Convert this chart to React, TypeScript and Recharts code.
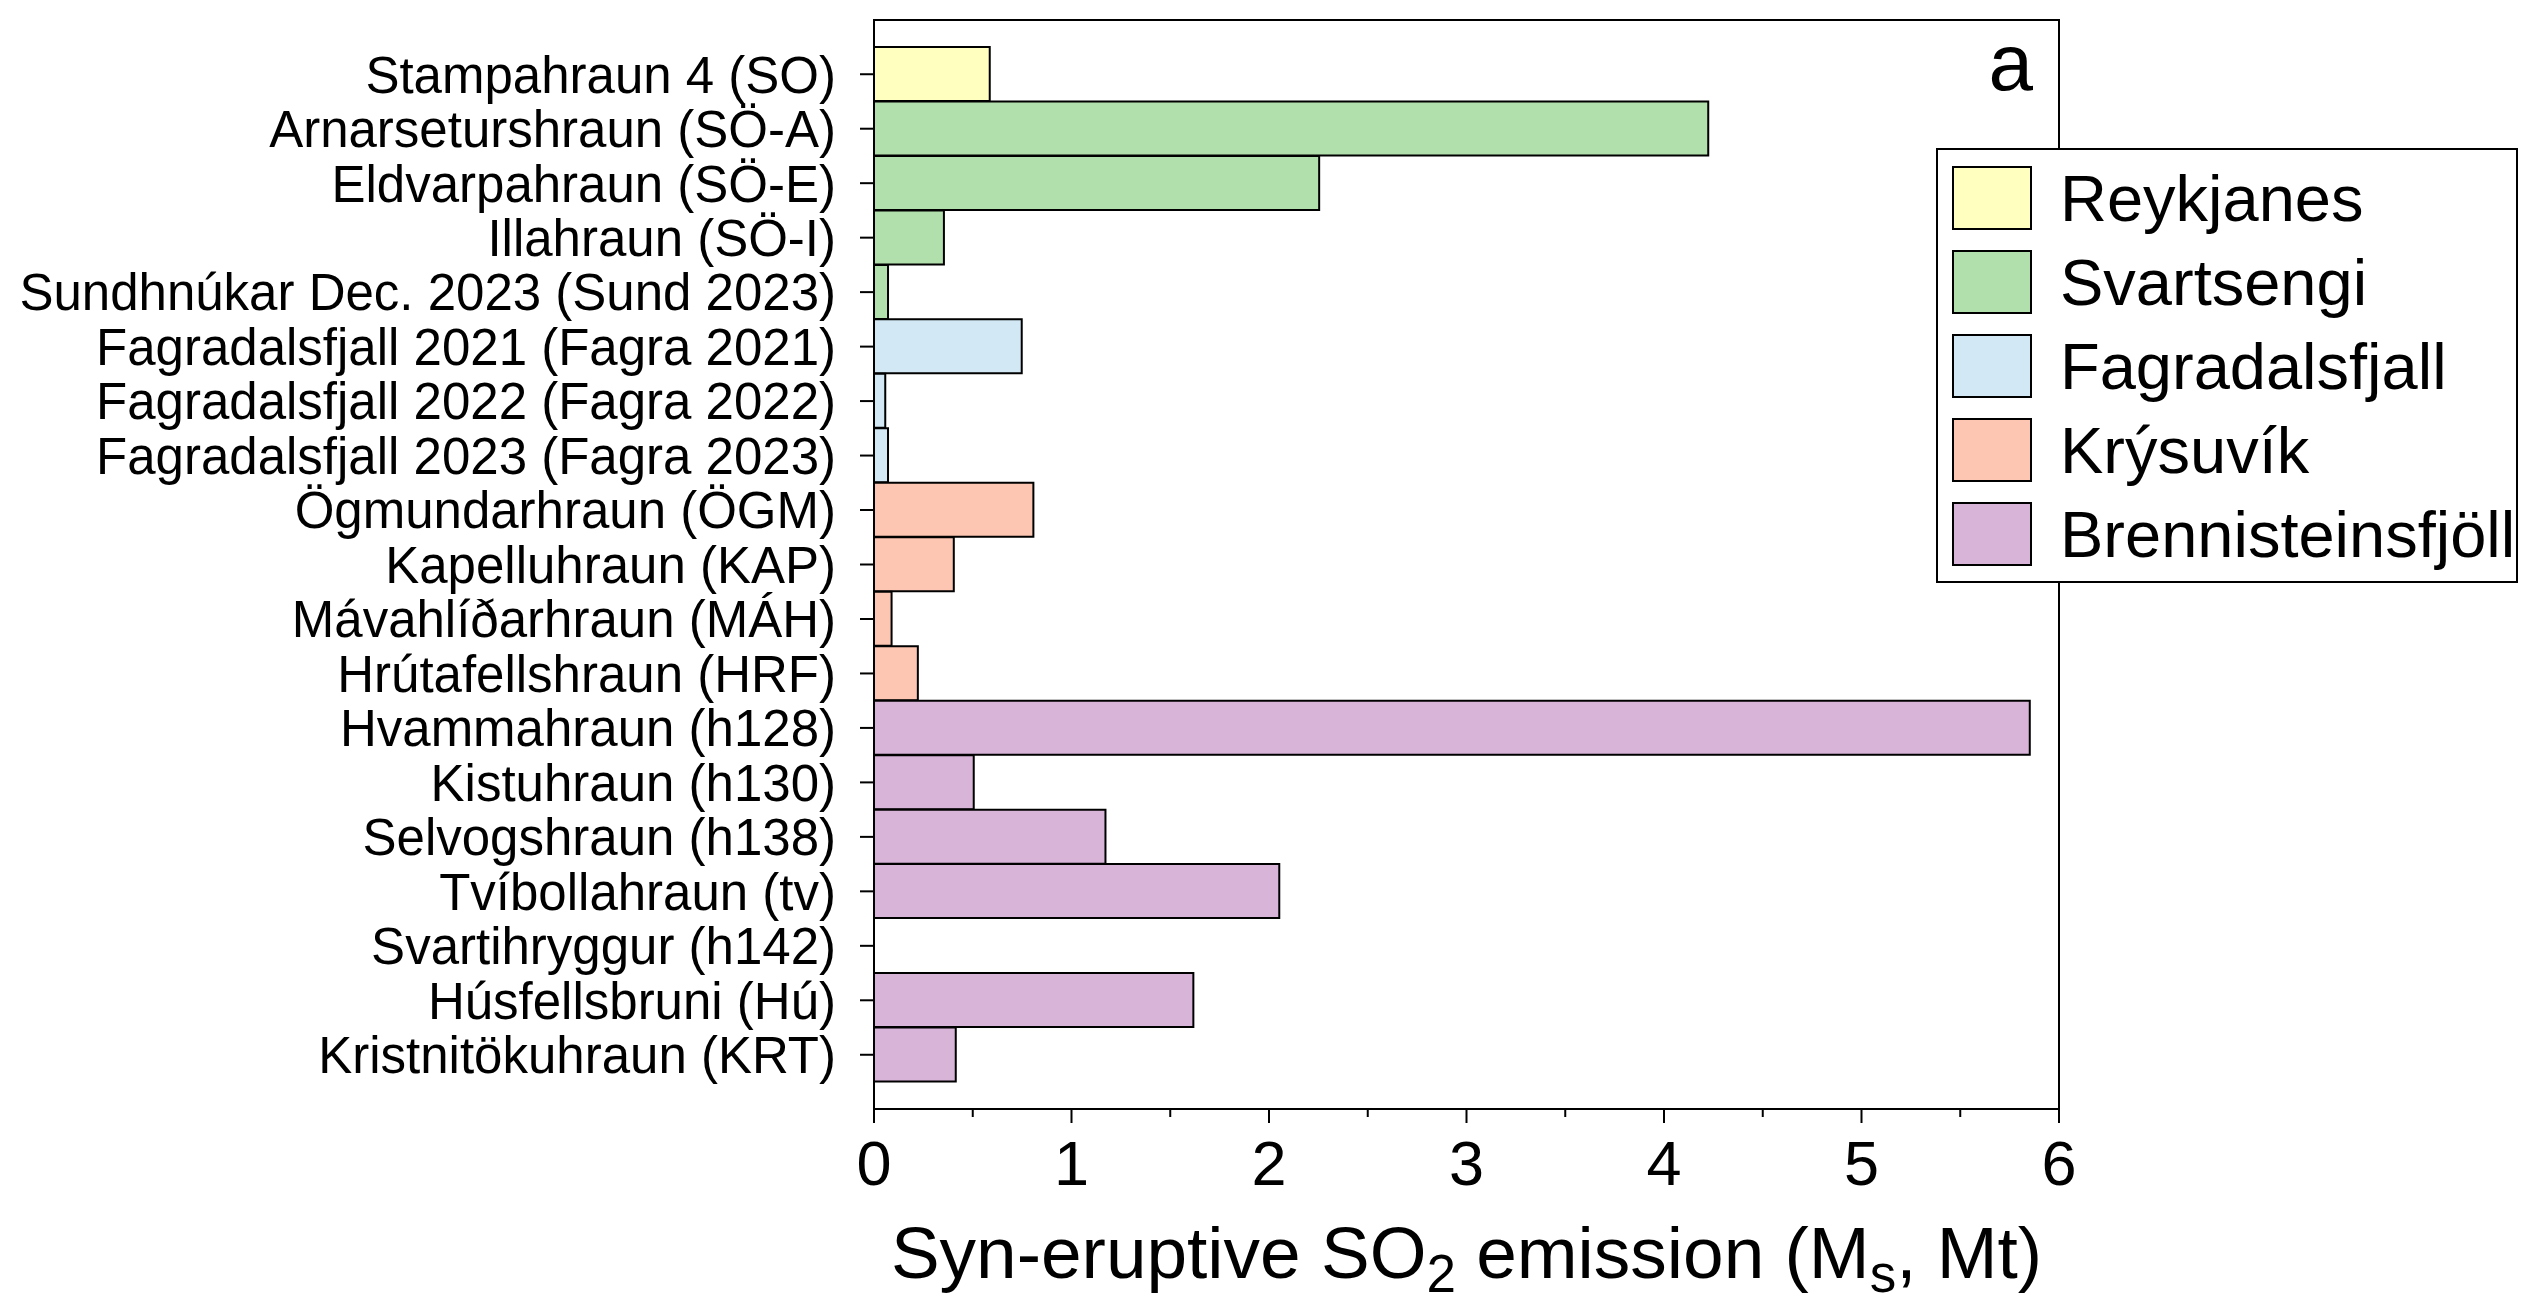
import React from 'react';
import * as R from 'recharts';
import { BarChart, Bar, XAxis, YAxis, Cell, Legend, Customized } from 'recharts';

const CATEGORIES = [
  'Stampahraun 4 (SO)',
  'Arnarsetushraun (SÖ-A)',
  'Eldvarpahraun (SÖ-E)',
  'Illahraun (SÖ-I)',
  'Sundhnúkar Dec. 2023 (Sund 2023)',
  'Fagradalsfjall 2021 (Fagra 2021)',
  'Fagradalsfjall 2022 (Fagra 2022)',
  'Fagradalsfjall 2023 (Fagra 2023)',
  'Ögmundarhraun (ÖGM)',
  'Kapelluhraun (KAP)',
  'Mávahlíðarhraun (MÁH)',
  'Hrútafellshraun (HRF)',
  'Hvammahraun (h128)',
  'Kistuhraun (h130)',
  'Selvogshraun (h138)',
  'Tvíbollahraun (tv)',
  'Svartihryggur (h142)',
  'Húsfellsbruni (Hú)',
  'Kristnitökuhraun (KRT)',
];
CATEGORIES[1] = 'Arnarsetur' + 'shraun (SÖ-A)';

const SO2_VALUES: (number | null)[] = [
  0.586, 4.224, 2.254, 0.354, 0.071, 0.748, 0.057, 0.071, 0.807, 0.404, 0.089, 0.222,
  5.852, 0.505, 1.172, 2.052, null, 1.617, 0.414,
];

const GROUP_OF = [
  'Reykjanes',
  'Svartsengi', 'Svartsengi', 'Svartsengi', 'Svartsengi',
  'Fagradalsfjall', 'Fagradalsfjall', 'Fagradalsfjall',
  'Krýsuvík', 'Krýsuvík', 'Krýsuvík', 'Krýsuvík',
  'Brennisteinsfjöll', 'Brennisteinsfjöll', 'Brennisteinsfjöll', 'Brennisteinsfjöll',
  'Brennisteinsfjöll', 'Brennisteinsfjöll', 'Brennisteinsfjöll',
];

const GROUPS = ['Reykjanes', 'Svartsengi', 'Fagradalsfjall', 'Krýsuvík', 'Brennisteinsfjöll'];
const GROUP_COLORS = ['#FFFFC0', '#B2E0AC', '#D2E8F5', '#FDC6B3', '#D8B5D8'];

const X_TICKS = [0, 0.5, 1, 1.5, 2, 2.5, 3, 3.5, 4, 4.5, 5, 5.5, 6];

const FONT = '"Liberation Sans", Arial, sans-serif';

const CHART_W = 2520;
const CHART_H = 1292;
const MARGIN = { top: 12, right: 469, left: 0, bottom: 0 };
const Y_AXIS_W = 866;
const X_AXIS_H = 191;

const data = CATEGORIES.map((name, i) => ({ name, value: SO2_VALUES[i], group: GROUP_OF[i] }));
const colorOf = (g: string) => GROUP_COLORS[GROUPS.indexOf(g)];

const usePlotAreaHook: any = (R as any).usePlotArea || null;
const useOffsetHook: any = (R as any).useOffset || null;

const FrameWithPlotArea = () => {
  const pa = usePlotAreaHook();
  if (!pa) return null;
  return <rect x={pa.x} y={pa.y} width={pa.width} height={pa.height} fill="none" stroke="#000" strokeWidth={2} />;
};

const FrameWithOffset = () => {
  const off = useOffsetHook ? useOffsetHook() : null;
  const left = off ? off.left : MARGIN.left + Y_AXIS_W;
  const top = off ? off.top : MARGIN.top;
  const right = off ? off.right : MARGIN.right;
  const bottom = off ? off.bottom : MARGIN.bottom + X_AXIS_H;
  return (
    <rect
      x={left}
      y={top}
      width={CHART_W - left - right}
      height={CHART_H - top - bottom}
      fill="none"
      stroke="#000"
      strokeWidth={2}
    />
  );
};

const Frame = usePlotAreaHook ? FrameWithPlotArea : FrameWithOffset;

const XTick = (props: any) => {
  const { x, y, payload } = props;
  const v = payload.value;
  const major = Number.isInteger(v);
  return (
    <g>
      <line x1={x} x2={x} y1={y} y2={y + (major ? 14 : 8)} stroke="#000" strokeWidth={2} />
      {major && (
        <text x={x} y={y + 76} textAnchor="middle" fontSize={63} fontFamily={FONT} fill="#000">
          {v}
        </text>
      )}
    </g>
  );
};

const YTick = (props: any) => {
  const { x, y, payload } = props;
  return (
    <text x={x} y={y} dy="0.36em" textAnchor="end" fontSize={51} fontFamily={FONT} fill="#000">
      {payload.value}
    </text>
  );
};

const TitleLabel = (props: any) => {
  const vb = props.viewBox || {};
  const cx = vb.x + vb.width / 2;
  const y = vb.y + 169;
  return (
    <text x={cx} y={y} textAnchor="middle" fontSize={73} fontFamily={FONT} fill="#000">
      Syn-eruptive SO
      <tspan fontSize={53} dy={14}>2</tspan>
      <tspan dy={-14}> emission (M</tspan>
      <tspan fontSize={53} dy={14}>s</tspan>
      <tspan dy={-14}>, Mt)</tspan>
    </text>
  );
};

const LegendBox = () => (
  <div
    style={{
      position: 'absolute',
      left: 0,
      top: 0,
      width: 582,
      height: 435,
      border: '2px solid #000',
      boxSizing: 'border-box',
      background: '#fff',
      fontFamily: FONT,
    }}
  >
    {GROUPS.map((g, i) => (
      <div key={g}>
        <div
          style={{
            position: 'absolute',
            left: 14,
            top: 16 + i * 84,
            width: 80,
            height: 64,
            boxSizing: 'border-box',
            border: '2px solid #000',
            background: GROUP_COLORS[i],
          }}
        />
        <div
          style={{
            position: 'absolute',
            left: 122,
            top: 17 + i * 84,
            height: 64,
            lineHeight: '64px',
            fontSize: 65,
            whiteSpace: 'nowrap',
            color: '#000',
          }}
        >
          {g}
        </div>
      </div>
    ))}
  </div>
);

export default function App() {
  return (
    <div style={{ width: CHART_W, height: CHART_H }}>
      <BarChart
        width={CHART_W}
        height={CHART_H}
        data={data}
        layout="vertical"
        barCategoryGap={0}
        margin={MARGIN}
      >
        <XAxis
          type="number"
          domain={[0, 6]}
          ticks={X_TICKS}
          interval={0}
          height={X_AXIS_H}
          tickSize={0}
          tickMargin={0}
          tickLine={false}
          tick={<XTick />}
          axisLine={{ stroke: '#000', strokeWidth: 2 }}
          label={{ content: <TitleLabel /> } as any}
        />
        <YAxis
          type="category"
          dataKey="name"
          width={Y_AXIS_W}
          interval={0}
          padding={{ top: 27, bottom: 27 }}
          tickSize={14}
          tickMargin={24}
          tickLine={{ stroke: '#000', strokeWidth: 2 }}
          tick={<YTick />}
          axisLine={{ stroke: '#000', strokeWidth: 2 }}
        />
        <Bar dataKey="value" stroke="#000" strokeWidth={2} isAnimationActive={false}>
          {data.map((d, i) => (
            <Cell key={i} fill={colorOf(d.group)} />
          ))}
        </Bar>
        <Customized component={Frame} />
        <Legend
          content={() => <LegendBox />}
          wrapperStyle={{ position: 'absolute', left: 1928, top: 140, width: 0, height: 0, bottom: 'auto', right: 'auto' }}
        />
        <Customized
          component={() => (
            <text x={2025} y={82} textAnchor="end" fontSize={80} fontFamily={FONT} fill="#000">
              a
            </text>
          )}
        />
      </BarChart>
    </div>
  );
}
